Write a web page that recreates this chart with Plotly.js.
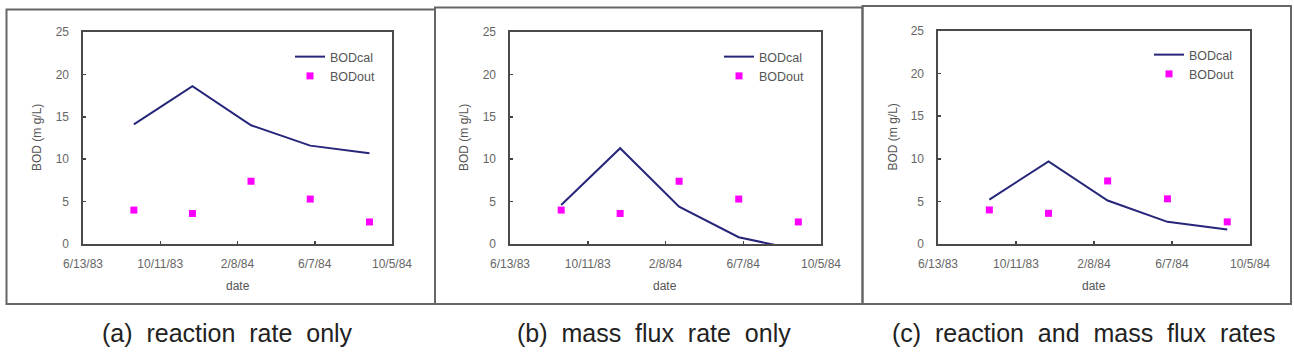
<!DOCTYPE html>
<html>
<head>
<meta charset="utf-8">
<script src="https://cdn.plot.ly/plotly-3.0.1.min.js"></script>
<style>
  html, body { margin: 0; padding: 0; background: #ffffff; }
  #chart { width: 1294px; height: 358px; }
</style>
</head>
<body>
<div id="chart"></div>
<script>
// Sampling dates (end of each quarter)
const sampleDates = ['1983-08-31', '1983-11-30', '1984-02-29', '1984-05-31', '1984-08-31'];

// Measured effluent BOD (mg/L)
const bodOut = [4.0, 3.6, 7.4, 5.3, 2.6];

// Calculated BOD for each model variant (mg/L)
const bodCalReaction = [14.1, 18.6, 14.0, 11.6, 10.7];
const bodCalMassFlux = [4.6, 11.3, 4.4, 0.8, -0.7];
const bodCalBoth = [5.2, 9.7, 5.1, 2.6, 1.7];

// Axis ticks
const dateTickVals = ['1983-06-13', '1983-10-11', '1984-02-08', '1984-06-07', '1984-10-05'];
const dateTickText = ['6/13/83', '10/11/83', '2/8/84', '6/7/84', '10/5/84'];
const dateRange = ['1983-06-13', '1984-10-05'];
const bodRange = [0, 25];

// Panel captions (words separated by wide gaps)
const gap = '\u00a0\u00a0';
const captions = [
  ['(a)', 'reaction', 'rate', 'only'].join(gap),
  ['(b)', 'mass', 'flux', 'rate', 'only'].join(gap),
  ['(c)', 'reaction', 'and', 'mass', 'flux', 'rates'].join(gap)
];
const calSeries = [bodCalReaction, bodCalMassFlux, bodCalBoth];

const W = 1294, H = 358;
const px = v => v / W;          // pixel x -> paper x
const py = v => 1 - v / H;      // pixel y -> paper y

const FONT = 'Liberation Sans, Arial, sans-serif';
const lineColor = '#25257a';
const markColor = '#ff00ff';

// Panel geometry in pixels
const panels = [
  { plot: [83, 392, 32, 244], box: [6.5, 435, 9.5, 304], legend: [290, 42], cap: 227 },
  { plot: [510, 821, 32, 244], box: [435, 862.5, 7.5, 304], legend: [719, 42], cap: 654 },
  { plot: [938, 1250, 31, 244], box: [862.5, 1291, 6, 304], legend: [1149, 40], cap: 1083 }
];

const traces = [];
const layout = {
  width: W, height: H,
  margin: { l: 0, r: 0, t: 0, b: 0 },
  paper_bgcolor: '#ffffff',
  plot_bgcolor: '#ffffff',
  font: { family: FONT, color: '#555555', size: 12 },
  showlegend: true,
  shapes: [],
  annotations: []
};

panels.forEach((p, i) => {
  const n = i === 0 ? '' : String(i + 1);
  const lg = 'legend' + n;

  traces.push({
    type: 'scatter', mode: 'lines', name: 'BODcal',
    x: sampleDates, y: calSeries[i],
    xaxis: 'x' + n, yaxis: 'y' + n, legend: lg,
    line: { color: lineColor, width: 2 },
    hoverinfo: 'x+y'
  });
  traces.push({
    type: 'scatter', mode: 'markers', name: 'BODout',
    x: sampleDates, y: bodOut,
    xaxis: 'x' + n, yaxis: 'y' + n, legend: lg,
    marker: { symbol: 'square', size: 7, color: markColor },
    cliponaxis: false,
    hoverinfo: 'x+y'
  });

  const [l, r, t, b] = p.plot;
  layout['xaxis' + n] = {
    type: 'date', range: dateRange, domain: [px(l), px(r)], anchor: 'y' + n,
    tickmode: 'array', tickvals: dateTickVals, ticktext: dateTickText,
    ticks: 'inside', ticklen: 3, tickwidth: 1.5, tickcolor: '#444444',
    showline: true, linecolor: '#4a4a4a', linewidth: 1.6, mirror: true,
    showgrid: false, zeroline: false, fixedrange: true,
    ticklabelstandoff: 8,
    tickfont: { family: FONT, size: 12, color: '#666666' }
  };
  layout['yaxis' + n] = {
    range: bodRange, domain: [py(b), py(t)], anchor: 'x' + n,
    dtick: 5, tick0: 0,
    ticks: 'inside', ticklen: 3, tickwidth: 1.5, tickcolor: '#444444',
    showline: true, linecolor: '#4a4a4a', linewidth: 1.6, mirror: true,
    showgrid: false, zeroline: false, fixedrange: true,
    ticklabelstandoff: 10,
    tickfont: { family: FONT, size: 12, color: '#666666' }
  };
  layout[lg] = {
    x: px(p.legend[0]), xanchor: 'left',
    y: py(p.legend[1]), yanchor: 'top',
    bgcolor: 'rgba(0,0,0,0)', borderwidth: 0,
    font: { family: FONT, size: 12.5, color: '#555555' },
    tracegroupgap: 0
  };

  // Outer panel frame
  const [bl, br, bt, bb] = p.box;
  layout.shapes.push({
    type: 'rect', xref: 'paper', yref: 'paper',
    x0: px(bl), x1: px(br), y0: py(bb), y1: py(bt),
    line: { color: '#666666', width: 2 }, fillcolor: 'rgba(0,0,0,0)', layer: 'below'
  });

  // Axis titles
  layout.annotations.push({
    xref: 'paper', yref: 'paper', x: px(l - 46), y: py((t + b) / 2),
    text: 'BOD (m g/L)', textangle: -90, showarrow: false,
    xanchor: 'center', yanchor: 'middle',
    font: { family: FONT, size: 12, color: '#555555' }
  });
  layout.annotations.push({
    xref: 'paper', yref: 'paper', x: px((l + r) / 2), y: py(286),
    text: 'date', showarrow: false, xanchor: 'center', yanchor: 'middle',
    font: { family: FONT, size: 12, color: '#555555' }
  });

  // Caption under the panel
  layout.annotations.push({
    xref: 'paper', yref: 'paper', x: px(p.cap), y: py(333),
    text: captions[i], showarrow: false, xanchor: 'center', yanchor: 'middle',
    font: { family: FONT, size: 25, color: '#222222' }
  });
});

Plotly.newPlot('chart', traces, layout, { displayModeBar: false, staticPlot: true });
</script>
</body>
</html>
